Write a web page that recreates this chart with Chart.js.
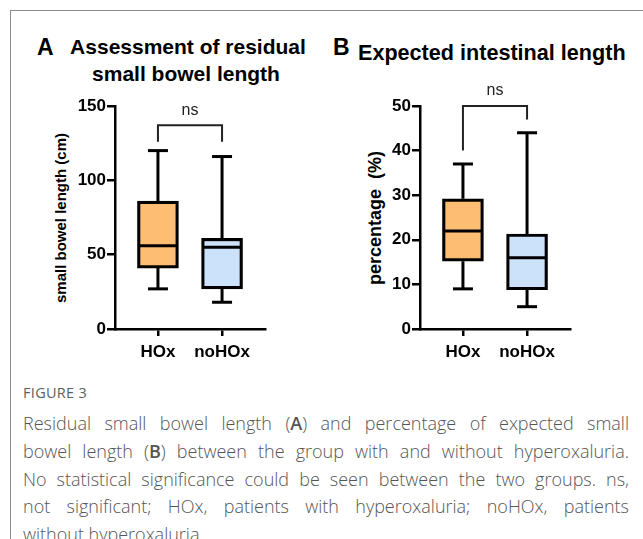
<!DOCTYPE html>
<html><head><meta charset="utf-8">
<script src="https://cdn.jsdelivr.net/npm/chart.js@4.4.0/dist/chart.umd.min.js"></script>
<style>
html,body{margin:0;padding:0;background:#fff;}
body{width:643px;height:539px;position:relative;overflow:hidden;font-family:"Liberation Sans",Arial,sans-serif;}
.abs{position:absolute;}
#frameTop{left:10px;top:10px;width:633px;height:1px;background:#8c8c8c;}
#frameLeft{left:10px;top:10px;width:1px;height:529px;background:#8c8c8c;}
.panel{font-weight:bold;color:#000;white-space:nowrap;line-height:1;}
.ytitle{transform:translate(-50%,-50%) rotate(-90deg);font-weight:bold;white-space:nowrap;color:#000;}
#figlabel{left:23px;top:383px;font-family:"Open Sans",sans-serif;font-size:14.5px;line-height:20px;color:#5e5e5e;letter-spacing:0.3px;}
#caption{left:23px;top:410px;width:606px;font-family:"Open Sans",sans-serif;font-weight:300;font-size:18px;line-height:27.8px;color:#555;}
#caption span{display:block;text-align:justify;text-align-last:justify;white-space:nowrap;}
#caption span.last{text-align-last:left;}
#caption b{font-weight:600;}
canvas{position:absolute;}
</style>
</head><body>
<div id="frameTop" class="abs"></div>
<div id="frameLeft" class="abs"></div>

<div class="abs panel" style="left:37px;top:36px;font-size:23px;">A</div>
<div class="abs panel" style="left:68px;top:36px;font-size:21px;width:240px;text-align:center;">Assessment of residual</div>
<div class="abs panel" style="left:66px;top:63px;font-size:21px;width:240px;text-align:center;">small bowel length</div>
<div class="abs panel" style="left:333px;top:36px;font-size:23px;">B</div>
<div class="abs panel" style="left:358px;top:42px;font-size:21.6px;">Expected intestinal length</div>

<div class="abs ytitle" style="left:60px;top:218px;font-size:15px;">small bowel length (cm)</div>
<div class="abs ytitle" style="left:375px;top:218px;font-size:18px;white-space:pre;">percentage  (%)</div>

<canvas id="chartA" width="300" height="290" style="left:0px;top:80px;"></canvas>
<canvas id="chartB" width="300" height="290" style="left:305px;top:80px;"></canvas>

<div id="figlabel" class="abs">FIGURE 3</div>
<div id="caption" class="abs">
<span>Residual small bowel length (<b>A</b>) and percentage of expected small</span>
<span>bowel length (<b>B</b>) between the group with and without hyperoxaluria.</span>
<span>No statistical significance could be seen between the two groups. ns,</span>
<span>not significant; HOx, patients with hyperoxaluria; noHOx, patients</span>
<span class="last">without hyperoxaluria.</span>
</div>

<script>
// ---- data ----
const categories = ['HOx', 'noHOx'];
const boxColors = ['#FDBE74', '#CCE1FA'];

// Panel A: residual small bowel length (cm)
const lengthMin = [27, 18];
const lengthQ1 = [41, 27];
const lengthMedian = [56, 55];
const lengthQ3 = [86, 61];
const lengthMax = [120, 116];
const lengthTicks = [0, 50, 100, 150];
const lengthBracket = [137, 126, 126]; // top, left end, right end

// Panel B: percentage of expected length (%)
const pctMin = [9, 5];
const pctQ1 = [15.2, 8.8];
const pctMedian = [22, 16];
const pctQ3 = [29.2, 21.3];
const pctMax = [37, 44];
const pctTicks = [0, 10, 20, 30, 40, 50];
const pctBracket = [50, 40, 47];

const sigLabel = 'ns';

const boxPlugin = {
  id: 'boxes',
  afterDatasetsDraw(chart) {
    const o = chart.options.plugins.boxes;
    const ctx = chart.ctx;
    const x = chart.scales.x, y = chart.scales.y;
    const meta = chart.getDatasetMeta(0);
    ctx.save();
    ctx.strokeStyle = '#000';
    ctx.lineCap = 'butt';
    const line = (x1, y1, x2, y2) => { ctx.beginPath(); ctx.moveTo(x1, y1); ctx.lineTo(x2, y2); ctx.stroke(); };
    o.min.forEach((mn, i) => {
      const el = meta.data[i];
      const cx = el.x;
      const half = el.width / 2;
      ctx.lineWidth = 3;
      const yMax = y.getPixelForValue(o.max[i]);
      const yMin = y.getPixelForValue(mn);
      const yQ3 = y.getPixelForValue(o.q3[i]);
      const yQ1 = y.getPixelForValue(o.q1[i]);
      line(cx, yQ3, cx, yMax);
      line(cx, yQ1, cx, yMin);
      line(cx - 10, yMax, cx + 10, yMax);
      line(cx - 10, yMin, cx + 10, yMin);
      const yMed = y.getPixelForValue(o.median[i]);
      line(cx - half + 1, yMed, cx + half - 1, yMed);
    });
    // significance bracket
    const b = o.bracket;
    const xl = x.getPixelForValue(1), xr = x.getPixelForValue(2);
    const yt = y.getPixelForValue(b[0]);
    ctx.lineWidth = 2;
    ctx.strokeStyle = '#222';
    ctx.beginPath();
    ctx.moveTo(xl, y.getPixelForValue(b[1]));
    ctx.lineTo(xl, yt);
    ctx.lineTo(xr, yt);
    ctx.lineTo(xr, y.getPixelForValue(b[2]));
    ctx.stroke();
    ctx.fillStyle = '#222';
    ctx.font = '16px "Liberation Sans", Arial, sans-serif';
    ctx.textAlign = 'center';
    ctx.textBaseline = 'middle';
    ctx.fillText(sigLabel, (xl + xr) / 2, yt - 15);
    ctx.restore();
  }
};

function makeChart(id, mins, q1, med, q3, maxs, ticks, bracket) {
  const tickFont = { family: '"Liberation Sans", Arial, sans-serif', size: 17, weight: 'bold' };
  return new Chart(document.getElementById(id), {
    type: 'bar',
    data: {
      datasets: [{
        data: categories.map((c, i) => ({ x: i + 1, y: [q1[i], q3[i]] })),
        backgroundColor: boxColors,
        borderColor: '#000',
        borderWidth: 3.2,
        borderSkipped: false,
        barThickness: 41
      }]
    },
    options: {
      responsive: false,
      animation: false,
      layout: { padding: { top: 26, right: 35, left: 0, bottom: 0 } },
      plugins: {
        legend: { display: false },
        tooltip: { enabled: false },
        boxes: { min: mins, q1: q1, median: med, q3: q3, max: maxs, bracket: bracket }
      },
      scales: {
        x: {
          type: 'linear',
          offset: false,
          min: 0.33, max: 2.67,
          afterBuildTicks: s => { s.ticks = categories.map((c, i) => ({ value: i + 1 })); },
          afterFit: s => { s.height = 41; },
          ticks: { callback: (v, i) => categories[i], font: tickFont, color: '#000', padding: 6, maxRotation: 0, autoSkip: false },
          grid: { drawOnChartArea: false, offset: false, color: '#000', lineWidth: 2.5, tickLength: 7 },
          border: { color: '#000', width: 2.5 }
        },
        y: {
          min: ticks[0], max: ticks[ticks.length - 1],
          afterBuildTicks: s => { s.ticks = ticks.map(v => ({ value: v })); },
          afterFit: s => { s.width = 115; },
          ticks: { font: tickFont, color: '#000', padding: 1 },
          grid: { drawOnChartArea: false, color: '#000', lineWidth: 2.5, tickLength: 8 },
          border: { color: '#000', width: 2.5 }
        }
      }
    },
    plugins: [boxPlugin]
  });
}

makeChart('chartA', lengthMin, lengthQ1, lengthMedian, lengthQ3, lengthMax, lengthTicks, lengthBracket);
makeChart('chartB', pctMin, pctQ1, pctMedian, pctQ3, pctMax, pctTicks, pctBracket);
</script>
</body></html>
